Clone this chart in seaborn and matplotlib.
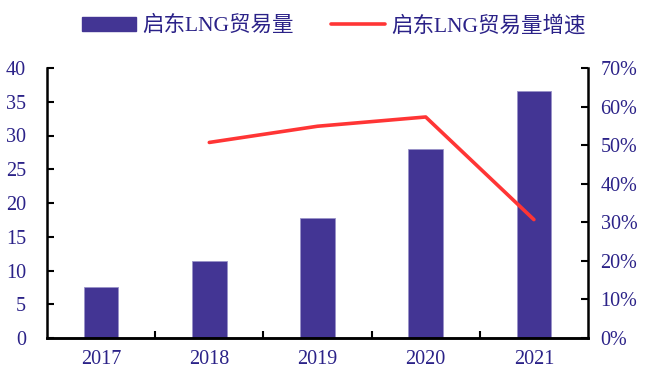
import numpy as np
import pandas as pd
import matplotlib
matplotlib.use("Agg")
import matplotlib.pyplot as plt
from matplotlib.patches import Patch
from matplotlib.lines import Line2D
from matplotlib.ticker import FixedLocator, PercentFormatter
import seaborn as sns

# Qidong LNG trade volume and its year-on-year growth
years = ["2017", "2018", "2019", "2020", "2021"]
volume = [7.6, 11.45, 17.8, 28.0, 36.6]
growth_years = ["2018", "2019", "2020", "2021"]
growth = [50.7, 54.9, 57.3, 30.7]

bar_label = "启东LNG贸易量"
line_label = "启东LNG贸易量增速"

sns.set_theme(style="white")
plt.rcParams["font.family"] = ["Liberation Serif", "Noto Sans CJK SC"]

BAR_COLOR = "#433594"
LINE_COLOR = "#FF3535"
TEXT_COLOR = "#2B2288"
TICK_SIZE = 14.5

fig = plt.figure(figsize=(6.46, 3.74), dpi=100)
ax = fig.add_axes([47 / 646, 1 - 338 / 374, (588 - 47) / 646, (338 - 68) / 374])

df = pd.DataFrame({"year": years, "volume": volume})
sns.barplot(data=df, x="year", y="volume", order=years, color=BAR_COLOR,
            saturation=1, width=0.32, edgecolor="#9a93c8", linewidth=0.6, ax=ax)

ax2 = ax.twinx()
pos = [years.index(y) for y in growth_years]
gdf = pd.DataFrame({"pos": pos, "growth": growth})
sns.lineplot(data=gdf, x="pos", y="growth", color=LINE_COLOR, linewidth=2.6,
             ax=ax2, legend=False)
ax2.set_ylim(0, 70)
ax2.set_yticks(np.arange(0, 71, 10))
ax2.yaxis.set_major_formatter(PercentFormatter(decimals=0))

ax.set_xlim(-0.5, len(years) - 0.5)
ax.set_ylim(0, 40)
ax.set_yticks(np.arange(0, 41, 5))
ax.set_xlabel("")
ax.set_ylabel("")
ax2.set_xlabel("")
ax2.set_ylabel("")

# category boundaries marked with small inward ticks
ax.xaxis.set_major_locator(FixedLocator(range(len(years))))
ax.set_xticklabels(years)
ax.xaxis.set_minor_locator(FixedLocator(np.arange(0.5, len(years) - 1, 1.0)))
ax.tick_params(axis="x", which="major", length=0, pad=9, labelsize=TICK_SIZE,
               labelcolor=TEXT_COLOR)
ax.tick_params(axis="x", which="minor", direction="in", length=5, width=1.5,
               color="black", bottom=True)
ax.tick_params(axis="y", direction="in", length=5, width=1.5, color="black",
               left=True, labelsize=TICK_SIZE, labelcolor=TEXT_COLOR, pad=15)
ax2.tick_params(axis="y", direction="in", length=5, width=1.5, color="black",
                right=True, labelsize=TICK_SIZE, labelcolor=TEXT_COLOR, pad=9)

for a in (ax, ax2):
    a.grid(False)
    for side in ("left", "right", "bottom"):
        a.spines[side].set_visible(True)
        a.spines[side].set_color("black")
        a.spines[side].set_linewidth(1.8)
    a.spines["top"].set_visible(False)
ax.spines["right"].set_visible(False)
ax2.spines["left"].set_visible(False)

handles = [Patch(facecolor=BAR_COLOR, edgecolor=BAR_COLOR),
           Line2D([0], [0], color=LINE_COLOR, linewidth=2.6)]
fig.legend(handles, [bar_label, line_label], loc="upper center",
           bbox_to_anchor=(0.517, 1.01), ncol=2, frameon=False, fontsize=15.5,
           labelcolor=TEXT_COLOR, handlelength=2.5, handleheight=0.6,
           handletextpad=0.3, columnspacing=1.7)

fig.savefig("out.png", dpi=100)
